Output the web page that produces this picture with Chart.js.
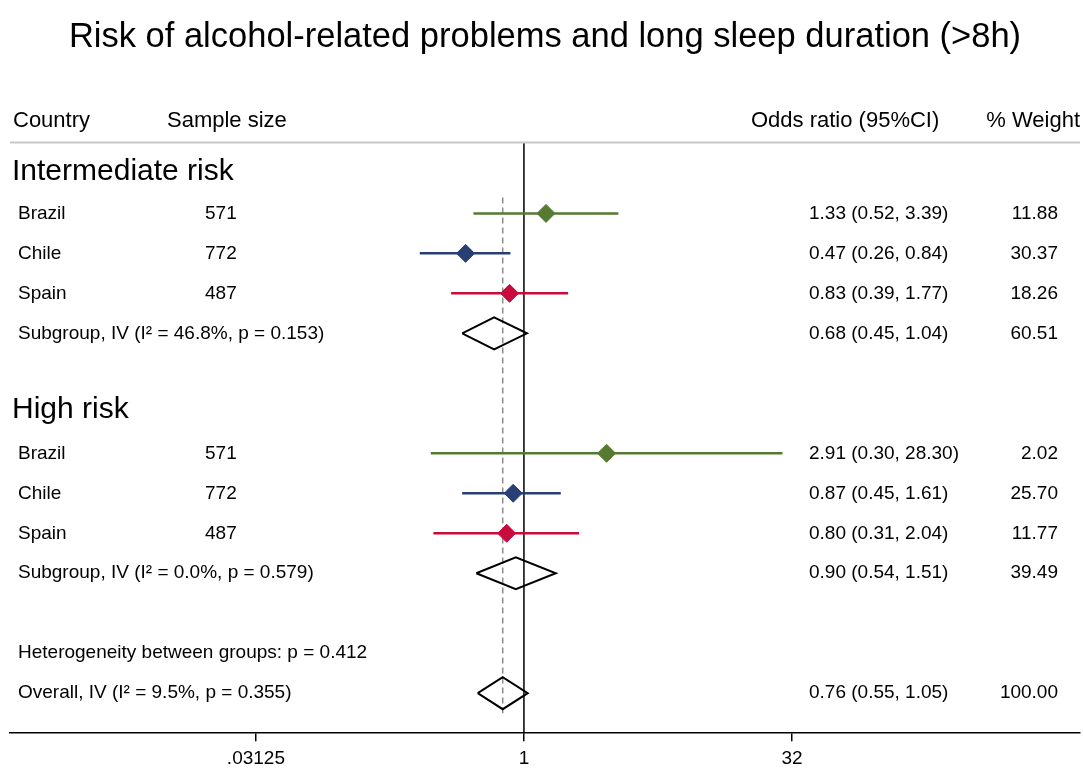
<!DOCTYPE html>
<html>
<head>
<meta charset="utf-8">
<script src="https://cdn.jsdelivr.net/npm/chart.js@4/dist/chart.umd.min.js"></script>
<style>
  html, body { margin: 0; padding: 0; background: #fff; }
</style>
</head>
<body>
<canvas id="forest" width="1083" height="769"></canvas>
<script>
// data
var countries = ["Brazil", "Chile", "Spain"];
var sampleSizes = [571, 772, 487];
var countryColors = ["#557a30", "#273f75", "#c80a3c"];

var interOR = [1.33, 0.47, 0.83];
var interLo = [0.52, 0.26, 0.39];
var interHi = [3.39, 0.84, 1.77];
var interWeight = [11.88, 30.37, 18.26];
var interSub = [0.68, 0.45, 1.04];   // estimate, lower, upper
var interSubWeight = 60.51;
var interSubStats = ["46.8%", "0.153"];

var highOR = [2.91, 0.87, 0.80];
var highLo = [0.30, 0.45, 0.31];
var highHi = [28.30, 1.61, 2.04];
var highWeight = [2.02, 25.70, 11.77];
var highSub = [0.90, 0.54, 1.51];
var highSubWeight = 39.49;
var highSubStats = ["0.0%", "0.579"];

var overall = [0.76, 0.55, 1.05];
var overallWeight = 100.00;
var overallStats = ["9.5%", "0.355"];
var heteroP = "0.412";

var xTicks = [0.03125, 1, 32];
var xTickLabels = [".03125", "1", "32"];

// row positions on the y scale
var interRows = [0, 1, 2];
var highRows = [6, 7, 8];
var interSubRow = 3, highSubRow = 9, heteroRow = 11, overallRow = 12;
var interHeadRow = -1.075, highHeadRow = 4.875;

Chart.defaults.font.family = '"Liberation Sans", Arial, Helvetica, sans-serif';
Chart.defaults.color = "#000";

var diamondHalf = 0.4;
var datasets = [];

function addStudy(or, lo, hi, row, color) {
  datasets.push({
    data: [{x: lo, y: row}, {x: hi, y: row}],
    showLine: true, borderColor: color, borderWidth: 2.5,
    pointRadius: 0, order: 2
  });
  datasets.push({
    data: [{x: or, y: row}],
    pointStyle: "rectRot", pointRadius: 9,
    backgroundColor: color, borderColor: color, borderWidth: 1, order: 1
  });
}

function addDiamond(est, row) {
  datasets.push({
    data: [
      {x: est[1], y: row}, {x: est[0], y: row - diamondHalf},
      {x: est[2], y: row}, {x: est[0], y: row + diamondHalf},
      {x: est[1], y: row}
    ],
    showLine: true, borderColor: "#000", borderWidth: 2,
    borderJoinStyle: "miter", pointRadius: 0, fill: false, order: 1
  });
}

for (var i = 0; i < countries.length; i++) {
  addStudy(interOR[i], interLo[i], interHi[i], interRows[i], countryColors[i]);
  addStudy(highOR[i], highLo[i], highHi[i], highRows[i], countryColors[i]);
}
addDiamond(interSub, interSubRow);
addDiamond(highSub, highSubRow);
addDiamond(overall, overallRow);

function ci(est, lo, hi) {
  return est.toFixed(2) + " (" + lo.toFixed(2) + ", " + hi.toFixed(2) + ")";
}

var forestText = {
  id: "forestText",
  beforeDatasetsDraw: function(chart) {
    var ctx = chart.ctx, a = chart.chartArea;
    var xs = chart.scales.x, ys = chart.scales.y;
    ctx.save();
    var x1 = xs.getPixelForValue(1);
    ctx.strokeStyle = "#000";
    ctx.lineWidth = 1.5;
    ctx.beginPath();
    ctx.moveTo(x1, a.top);
    ctx.lineTo(x1, a.bottom);
    ctx.stroke();

    var xo = xs.getPixelForValue(overall[0]);
    ctx.strokeStyle = "#8c8c8c";
    ctx.setLineDash([6, 4]);
    ctx.beginPath();
    ctx.moveTo(xo, ys.getPixelForValue(-0.4));
    ctx.lineTo(xo, ys.getPixelForValue(overallRow + 0.5));
    ctx.stroke();
    ctx.restore();
  },
  afterDraw: function(chart) {
    var ctx = chart.ctx, a = chart.chartArea, ys = chart.scales.y;
    ctx.save();
    // header
    ctx.strokeStyle = "#c8c8c8";
    ctx.lineWidth = 2;
    ctx.beginPath();
    ctx.moveTo(a.left, a.top);
    ctx.lineTo(a.right, a.top);
    ctx.stroke();

    ctx.fillStyle = "#000";
    ctx.textBaseline = "middle";
    ctx.font = '22px "Liberation Sans", Arial, sans-serif';
    var hy = a.top - 21;
    ctx.textAlign = "left";
    ctx.fillText("Country", 13, hy);
    ctx.fillText("Sample size", 167, hy);
    ctx.fillText("Odds ratio (95%CI)", 751, hy);
    ctx.textAlign = "right";
    ctx.fillText("% Weight", 1080, hy);

    ctx.textAlign = "left";
    ctx.font = '30px "Liberation Sans", Arial, sans-serif';
    ctx.fillText("Intermediate risk", 12, ys.getPixelForValue(interHeadRow) + 1);
    ctx.fillText("High risk", 12, ys.getPixelForValue(highHeadRow) + 1);

    ctx.font = '19px "Liberation Sans", Arial, sans-serif';
    function row(r, label, size, est, weight) {
      var y = ys.getPixelForValue(r);
      ctx.textAlign = "left";
      ctx.fillText(label, 18, y);
      if (size !== null) ctx.fillText(String(size), 205, y);
      if (est) ctx.fillText(est, 809, y);
      if (weight !== null) {
        ctx.textAlign = "right";
        ctx.fillText(weight.toFixed(2), 1058, y);
      }
    }
    for (var i = 0; i < countries.length; i++) {
      row(interRows[i], countries[i], sampleSizes[i], ci(interOR[i], interLo[i], interHi[i]), interWeight[i]);
      row(highRows[i], countries[i], sampleSizes[i], ci(highOR[i], highLo[i], highHi[i]), highWeight[i]);
    }
    row(interSubRow, "Subgroup, IV (I\u00b2 = " + interSubStats[0] + ", p = " + interSubStats[1] + ")", null,
        ci(interSub[0], interSub[1], interSub[2]), interSubWeight);
    row(highSubRow, "Subgroup, IV (I\u00b2 = " + highSubStats[0] + ", p = " + highSubStats[1] + ")", null,
        ci(highSub[0], highSub[1], highSub[2]), highSubWeight);
    row(heteroRow, "Heterogeneity between groups: p = " + heteroP, null, null, null);
    row(overallRow, "Overall, IV (I\u00b2 = " + overallStats[0] + ", p = " + overallStats[1] + ")", null,
        ci(overall[0], overall[1], overall[2]), overallWeight);
    ctx.restore();
  }
};

new Chart(document.getElementById("forest"), {
  type: "scatter",
  data: { datasets: datasets },
  plugins: [forestText],
  options: {
    responsive: false,
    animation: false,
    layout: { autoPadding: false, padding: { left: 10, right: 3, top: 0, bottom: -7 } },
    plugins: {
      legend: { display: false },
      tooltip: { enabled: false },
      title: {
        display: true,
        text: "Risk of alcohol-related problems and long sleep duration (>8h)",
        color: "#000",
        font: { size: 34.5, weight: "normal" },
        padding: { top: 17, bottom: 84 }
      }
    },
    scales: {
      x: {
        type: "logarithmic",
        bounds: "data",
        min: 0.0013,
        max: 1326,
        afterBuildTicks: function(scale) {
          scale.ticks = xTicks.map(function(v) { return {value: v}; });
        },
        afterFit: function(scale) {
          scale.paddingLeft = 0;
          scale.paddingRight = 0;
        },
        ticks: {
          autoSkip: false,
          maxRotation: 0,
          padding: 6,
          color: "#000",
          font: { size: 19 },
          callback: function(v, i) { return xTickLabels[i]; }
        },
        grid: { drawOnChartArea: false, drawTicks: true, tickLength: 8, color: "#000", lineWidth: 1.5 },
        border: { display: true, color: "#000", width: 1.5 }
      },
      y: {
        type: "linear",
        display: false,
        reverse: true,
        min: -1.775,
        max: 13
      }
    }
  }
});
</script>
</body>
</html>
